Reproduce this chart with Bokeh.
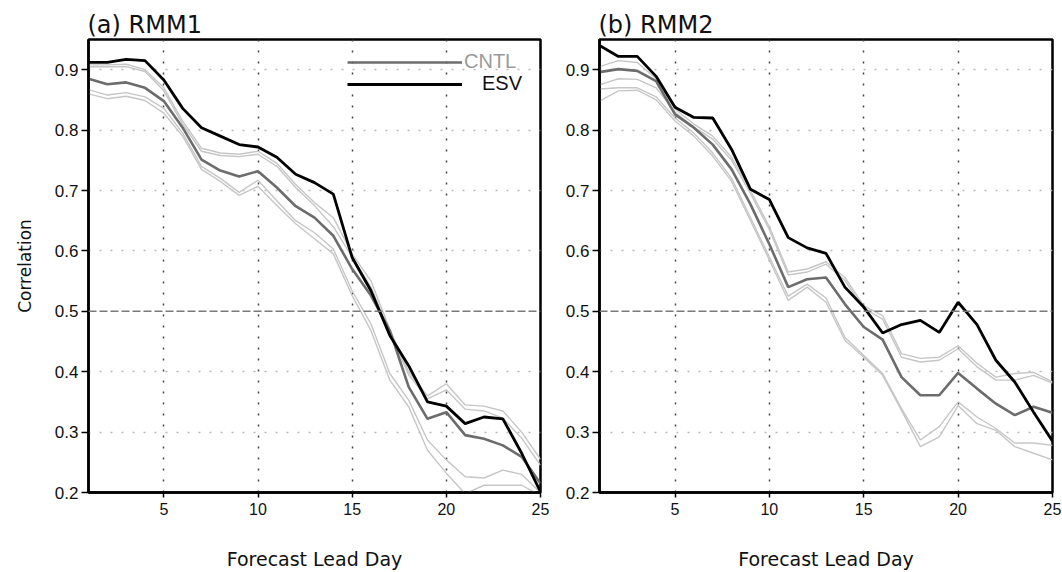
from bokeh.plotting import figure
from bokeh.layouts import row
from bokeh.models import Range1d, FixedTicker, Span, Legend, LegendItem
from bokeh.embed import file_html
from bokeh.resources import INLINE

# ---------------- data ----------------
days = list(range(1, 26))
x_ticks = [5, 10, 15, 20, 25]
y_ticks = [0.2, 0.3, 0.4, 0.5, 0.6, 0.7, 0.8, 0.9]
vgrid_days = [5, 10, 15, 20]
hgrid_vals = [0.3, 0.4, 0.6, 0.7, 0.8, 0.9]
ref_corr = 0.5

titles = ["(a) RMM1", "(b) RMM2"]
series_names = ["CNTL", "ESV"]

# RMM1
esv_rmm1 = [0.912, 0.912, 0.917, 0.915, 0.883, 0.836, 0.804, 0.790, 0.776, 0.772, 0.755, 0.727, 0.713,
            0.694, 0.589, 0.534, 0.460, 0.410, 0.350, 0.343, 0.314, 0.325, 0.322, 0.265, 0.201]
cntl_rmm1 = [0.885, 0.876, 0.879, 0.870, 0.848, 0.804, 0.751, 0.733, 0.723, 0.732, 0.705, 0.674, 0.655,
             0.625, 0.570, 0.526, 0.468, 0.375, 0.322, 0.333, 0.295, 0.289, 0.278, 0.259, 0.215]
mem1_rmm1 = [0.908, 0.908, 0.909, 0.900, 0.870, 0.815, 0.770, 0.762, 0.760, 0.765, 0.745, 0.710, 0.680,
             0.655, 0.595, 0.550, 0.470, 0.400, 0.360, 0.380, 0.345, 0.343, 0.335, 0.300, 0.255]
mem2_rmm1 = [0.905, 0.905, 0.905, 0.897, 0.865, 0.810, 0.765, 0.758, 0.756, 0.760, 0.740, 0.705, 0.675,
             0.640, 0.590, 0.540, 0.465, 0.395, 0.355, 0.370, 0.338, 0.335, 0.323, 0.290, 0.245]
mem3_rmm1 = [0.867, 0.858, 0.862, 0.855, 0.836, 0.795, 0.740, 0.720, 0.697, 0.717, 0.683, 0.650, 0.630,
             0.603, 0.534, 0.479, 0.397, 0.353, 0.287, 0.254, 0.226, 0.224, 0.237, 0.230, 0.200]
mem4_rmm1 = [0.860, 0.852, 0.856, 0.849, 0.828, 0.790, 0.735, 0.715, 0.692, 0.707, 0.675, 0.645, 0.620,
             0.595, 0.526, 0.468, 0.386, 0.342, 0.270, 0.232, 0.198, 0.212, 0.212, 0.212, 0.195]

# RMM2
esv_rmm2 = [0.940, 0.922, 0.922, 0.889, 0.838, 0.821, 0.820, 0.768, 0.702, 0.685, 0.622, 0.605, 0.596,
            0.540, 0.507, 0.464, 0.478, 0.485, 0.465, 0.515, 0.478, 0.419, 0.383, 0.333, 0.285]
cntl_rmm2 = [0.896, 0.901, 0.898, 0.881, 0.826, 0.804, 0.776, 0.735, 0.677, 0.611, 0.540, 0.553, 0.556,
             0.512, 0.474, 0.453, 0.391, 0.361, 0.361, 0.398, 0.372, 0.347, 0.328, 0.342, 0.332]
mem1_rmm2 = [0.905, 0.915, 0.912, 0.885, 0.835, 0.810, 0.790, 0.755, 0.700, 0.640, 0.565, 0.570, 0.582,
             0.556, 0.509, 0.493, 0.430, 0.422, 0.424, 0.443, 0.414, 0.391, 0.397, 0.399, 0.383]
mem2_rmm2 = [0.875, 0.885, 0.884, 0.870, 0.830, 0.805, 0.785, 0.750, 0.695, 0.635, 0.560, 0.565, 0.578,
             0.551, 0.505, 0.487, 0.424, 0.416, 0.419, 0.438, 0.408, 0.386, 0.386, 0.394, 0.381]
mem3_rmm2 = [0.868, 0.870, 0.870, 0.855, 0.820, 0.795, 0.762, 0.720, 0.655, 0.590, 0.525, 0.545, 0.522,
             0.457, 0.427, 0.397, 0.339, 0.287, 0.309, 0.350, 0.325, 0.306, 0.282, 0.282, 0.278]
mem4_rmm2 = [0.848, 0.865, 0.866, 0.850, 0.815, 0.790, 0.757, 0.715, 0.650, 0.585, 0.518, 0.540, 0.515,
             0.452, 0.424, 0.394, 0.336, 0.276, 0.292, 0.344, 0.314, 0.303, 0.276, 0.265, 0.254]

# ---------------- styling ----------------
LABEL_FONT = "DejaVu Sans"
TICK_FONT = "Liberation Sans"
MEMBER_COLOR = "#c6c6c6"
CNTL_COLOR = "#6c6c6c"
ESV_COLOR = "#000000"


def make_panel(title, esv, cntl, members, frame_w, border_l, border_r, ylabel, legend):
    p = figure(frame_width=frame_w, frame_height=453,
               min_border_left=border_l, min_border_right=border_r,
               min_border_top=39, min_border_bottom=78,
               x_range=Range1d(1, 25), y_range=Range1d(0.2, 0.95),
               output_backend="svg", toolbar_location=None, tools="")
    p.background_fill_color = "white"
    p.border_fill_color = "white"
    p.outline_line_color = "black"
    p.outline_line_width = 2.5

    p.title.text = title
    p.title.text_font = LABEL_FONT
    p.title.text_font_size = "24px"
    p.title.text_font_style = "normal"
    p.title.text_color = "#111111"
    p.title.offset = -1
    p.title.standoff = 2

    # grids
    p.xgrid.ticker = FixedTicker(ticks=vgrid_days)
    p.xgrid.grid_line_color = "#444444"
    p.xgrid.grid_line_dash = "2 9"
    p.xgrid.grid_line_width = 1.5
    p.ygrid.ticker = FixedTicker(ticks=hgrid_vals)
    p.ygrid.grid_line_color = "#b8b8b8"
    p.ygrid.grid_line_dash = "2 9"
    p.ygrid.grid_line_width = 1.5
    p.add_layout(Span(location=ref_corr, dimension="width", line_color="#7a7a7a",
                      line_dash="8 3", line_width=1.5))

    # axes
    for ax in (p.xaxis[0], p.yaxis[0]):
        ax.axis_line_color = "black"
        ax.axis_line_width = 2.5
        ax.major_tick_line_color = "black"
        ax.major_tick_line_width = 1.5
        ax.major_tick_in = 0
        ax.minor_tick_line_color = None
        ax.major_label_text_font = TICK_FONT
        ax.major_label_text_color = "#111111"
        ax.axis_label_text_font = LABEL_FONT
        ax.axis_label_text_font_style = "normal"
        ax.axis_label_text_color = "#111111"
    p.xaxis.ticker = FixedTicker(ticks=x_ticks)
    p.yaxis.ticker = FixedTicker(ticks=y_ticks)
    p.xaxis.major_tick_out = 5
    p.xaxis.major_label_standoff = 5
    p.xaxis.major_label_text_font_size = "16px"
    p.xaxis.axis_label = "Forecast Lead Day"
    p.xaxis.axis_label_text_font_size = "19px"
    p.xaxis.axis_label_standoff = 30
    p.yaxis.major_tick_out = 7
    p.yaxis.major_label_standoff = 3
    p.yaxis.major_label_text_font_size = "17px"
    if ylabel:
        p.yaxis.axis_label = "Correlation"
        p.yaxis.axis_label_text_font_size = "17px"
        p.yaxis.axis_label_standoff = 17

    # lines
    for m in members:
        p.line(days, m, line_color=MEMBER_COLOR, line_width=1.4)
    r_cntl = p.line(days, cntl, line_color=CNTL_COLOR, line_width=2.6)
    r_esv = p.line(days, esv, line_color=ESV_COLOR, line_width=2.8)

    if legend:
        common = dict(glyph_width=115, glyph_height=18, label_height=18, padding=0, margin=0,
                      spacing=0, border_line_color=None, background_fill_alpha=0,
                      label_text_font=TICK_FONT, label_text_font_size="20px")
        leg_c = Legend(items=[LegendItem(label=series_names[0], renderers=[r_cntl])],
                       location=(259, 419), label_standoff=2,
                       label_text_color="#9a9a9a", **common)
        leg_e = Legend(items=[LegendItem(label=series_names[1], renderers=[r_esv])],
                       location=(259, 397), label_standoff=20,
                       label_text_color="#111111", **common)
        p.add_layout(leg_c)
        p.add_layout(leg_e)
    return p


p1 = make_panel(titles[0], esv_rmm1, cntl_rmm1,
                [mem1_rmm1, mem2_rmm1, mem3_rmm1, mem4_rmm1],
                frame_w=452, border_l=88, border_r=22, ylabel=True, legend=True)
p2 = make_panel(titles[1], esv_rmm2, cntl_rmm2,
                [mem1_rmm2, mem2_rmm2, mem3_rmm2, mem4_rmm2],
                frame_w=453, border_l=35, border_r=10, ylabel=False, legend=False)

layout = row(p1, p2)
open("out.html", "w").write(file_html(layout, INLINE))
